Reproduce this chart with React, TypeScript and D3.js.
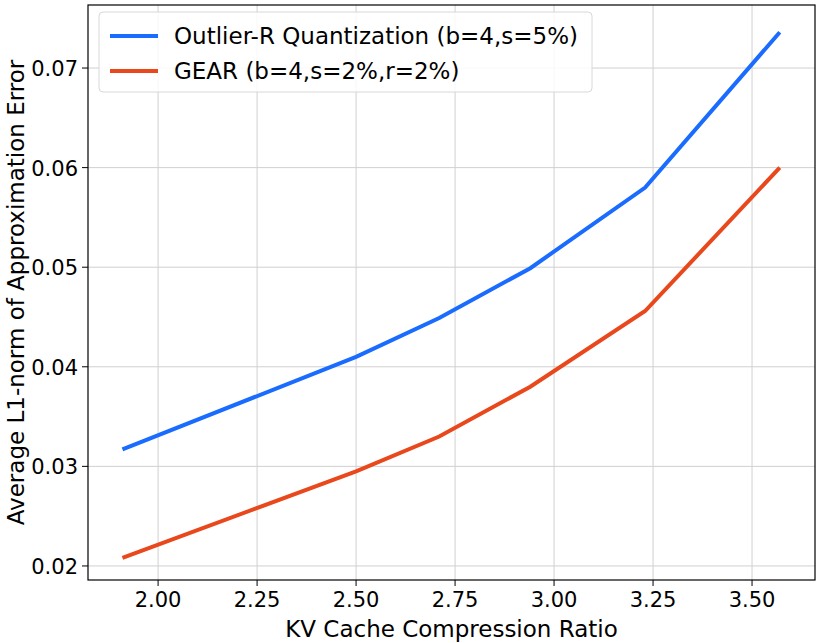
import * as d3 from "d3";

const ratios = [1.91, 2.5, 2.71, 2.94, 3.23, 3.57];
const outlierR = [0.0317, 0.041, 0.0449, 0.0499, 0.058, 0.0736];
const gear = [0.0208, 0.0295, 0.033, 0.038, 0.0456, 0.06];
const xTicks = [2.0, 2.25, 2.5, 2.75, 3.0, 3.25, 3.5];
const yTicks = [0.02, 0.03, 0.04, 0.05, 0.06, 0.07];
const seriesNames = ["Outlier-R Quantization (b=4,s=5%)", "GEAR (b=4,s=2%,r=2%)"];
const colors = ["#1a6cff", "#e8481c"];

export default function App() {
  const width = 822;
  const height = 643;
  const m = { left: 88, right: 7, top: 5, bottom: 63 };
  const x = d3.scaleLinear().domain([1.823, 3.659]).range([m.left, width - m.right]);
  const y = d3.scaleLinear().domain([0.01859, 0.07633]).range([height - m.bottom, m.top]);
  const line = d3
    .line<[number, number]>()
    .x((d) => x(d[0]))
    .y((d) => y(d[1]));
  const series = [outlierR, gear];
  const font = "DejaVu Sans, sans-serif";

  return (
    <svg width={width} height={height} style={{ position: "absolute", left: 0, top: 0 }} fontFamily={font}>
      <rect width={width} height={height} fill="#fff" />
      {xTicks.map((t) => (
        <g key={t}>
          <line x1={x(t)} x2={x(t)} y1={m.top} y2={height - m.bottom} stroke="#d0d0d0" />
          <line x1={x(t)} x2={x(t)} y1={height - m.bottom} y2={height - m.bottom + 6} stroke="#000" />
          <text x={x(t)} y={height - m.bottom + 27} textAnchor="middle" fontSize={21}>
            {t.toFixed(2)}
          </text>
        </g>
      ))}
      {yTicks.map((t) => (
        <g key={t}>
          <line x1={m.left} x2={width - m.right} y1={y(t)} y2={y(t)} stroke="#d0d0d0" />
          <line x1={m.left - 6} x2={m.left} y1={y(t)} y2={y(t)} stroke="#000" />
          <text x={m.left - 10} y={y(t) + 8} textAnchor="end" fontSize={21}>
            {t.toFixed(2)}
          </text>
        </g>
      ))}
      {series.map((s, i) => (
        <path
          key={i}
          d={line(ratios.map((r, j) => [r, s[j]] as [number, number])) ?? ""}
          fill="none"
          stroke={colors[i]}
          strokeWidth={4}
        />
      ))}
      <rect
        x={m.left}
        y={m.top}
        width={width - m.left - m.right}
        height={height - m.top - m.bottom}
        fill="none"
        stroke="#000"
        strokeWidth={1.2}
      />
      <text x={(m.left + width - m.right) / 2} y={height - 6} textAnchor="middle" fontSize={23}>
        KV Cache Compression Ratio
      </text>
      <text
        transform={`translate(24,${(m.top + height - m.bottom) / 2}) rotate(-90)`}
        textAnchor="middle"
        fontSize={23}
      >
        Average L1-norm of Approximation Error
      </text>
      <g>
        <rect x={99} y={12} width={493} height={80} rx={4} fill="#fff" fillOpacity={0.85} stroke="#d8d8d8" />
        {seriesNames.map((n, i) => (
          <g key={n} transform={`translate(110,${36 + i * 35})`}>
            <line x1={0} x2={48} y1={0} y2={0} stroke={colors[i]} strokeWidth={4} />
            <text x={64} y={8} fontSize={23}>
              {n}
            </text>
          </g>
        ))}
      </g>
    </svg>
  );
}
